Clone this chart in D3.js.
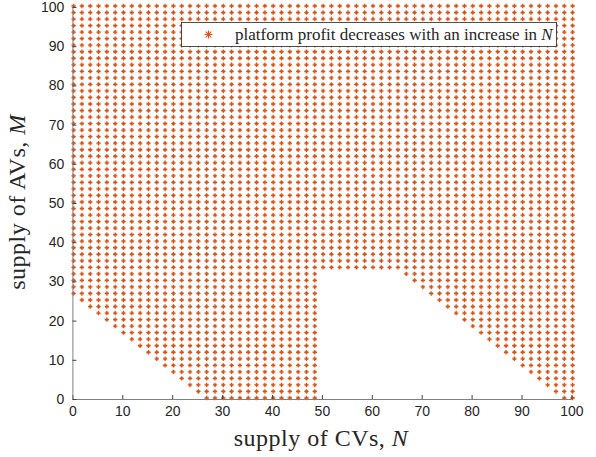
<!DOCTYPE html>
<html>
<head>
<meta charset="utf-8">
<script src="https://cdn.jsdelivr.net/npm/d3@7"></script>
<style>
  body { margin: 0; background: #fff; }
  svg { display: block; }
</style>
</head>
<body>
<svg width="596" height="457"></svg>
<script>
let width = 596, height = 457;

// sampling grid used for both N and M (61 points between 0 and 100)
let gridN = d3.range(61).map(k => k * 100 / 60);
let gridM = d3.range(61).map(k => k * 100 / 60);

// for every column of N, index of the lowest M row that is marked
let lowestRow = [16, 15, 14, 13, 12, 11, 10, 9, 8, 7, 6, 5, 4, 3, 2, 1, 0,
                 0, 0, 0, 0, 0, 0, 0, 0, 0, 0, 0, 0, 0,
                 20, 20, 20, 20, 20, 20, 20, 20, 20, 20,
                 19, 18, 17, 16, 15, 14, 13, 12, 11, 10, 9, 8, 7, 6, 5, 4, 3, 2, 1, 0,
                 0];

let xTicks = [0, 10, 20, 30, 40, 50, 60, 70, 80, 90, 100];
let yTicks = [0, 10, 20, 30, 40, 50, 60, 70, 80, 90, 100];

let legendLabel = "platform profit decreases with an increase in ";

let points = [];
gridN.forEach((n, i) => {
  gridM.forEach((m, j) => {
    if (j >= lowestRow[i]) points.push({n: n, m: m});
  });
});

let svg = d3.select("svg");

let x = d3.scaleLinear().domain([0, 100]).range([72.4, 571.4]);
let y = d3.scaleLinear().domain([0, 100]).range([399, 7]);

// asterisk marker pieces
function plusArms(r) {
  return "M" + (-r) + ",0L" + r + ",0M0," + (-r) + "L0," + r;
}
function crossArms(r) {
  let d = r * Math.SQRT1_2;
  return "M" + (-d) + "," + (-d) + "L" + d + "," + d +
         "M" + (-d) + "," + d + "L" + d + "," + (-d);
}

let orange = "#D95319";

let marks = svg.append("g")
    .attr("id", "marks")
    .attr("transform", "translate(1.2,-1)")
    .selectAll("g")
    .data(points)
    .enter()
    .append("g")
    .attr("transform", d => "translate(" + x(d.n) + "," + y(d.m) + ")");

marks.append("path")
    .attr("d", plusArms(2.2))
    .attr("stroke", orange)
    .attr("stroke-width", 1.3)
    .attr("fill", "none");
marks.append("path")
    .attr("d", crossArms(1.8))
    .attr("stroke", orange)
    .attr("stroke-width", 0.9)
    .attr("fill", "none");

// axes
let xAxis = svg.append("g")
    .attr("transform", "translate(0,399)")
    .call(d3.axisBottom(x).tickValues(xTicks).tickSizeInner(-4).tickSizeOuter(0).tickPadding(7));

let yAxis = svg.append("g")
    .attr("transform", "translate(72.4,0)")
    .call(d3.axisLeft(y).tickValues(yTicks).tickSizeInner(-4).tickSizeOuter(0).tickPadding(8));

[xAxis, yAxis].forEach(a => {
  a.select(".domain").attr("stroke", "#808080").attr("stroke-width", 1);
  a.selectAll(".tick line").attr("stroke", "#404040").attr("stroke-width", 1);
  a.selectAll(".tick text")
    .attr("fill", "#262626")
    .style("font-family", "'Liberation Sans', Arial, Helvetica, sans-serif")
    .style("font-size", "14px");
});

// axis labels
let xLabel = svg.append("text")
    .attr("x", 321)
    .attr("y", 446)
    .attr("text-anchor", "middle")
    .style("font-family", "'Liberation Serif', 'Times New Roman', serif")
    .style("font-size", "24px")
    .style("letter-spacing", "0.5px")
    .attr("fill", "#262626");
xLabel.append("tspan").text("supply of CVs, ");
xLabel.append("tspan").style("font-style", "italic").text("N");

let yLabel = svg.append("text")
    .attr("transform", "translate(25,202) rotate(-90)")
    .attr("text-anchor", "middle")
    .style("font-family", "'Liberation Serif', 'Times New Roman', serif")
    .style("font-size", "24px")
    .style("letter-spacing", "0.5px")
    .attr("fill", "#262626");
yLabel.append("tspan").text("supply of AVs, ");
yLabel.append("tspan").style("font-style", "italic").text("M");

// legend
let legend = svg.append("g").attr("id", "legend");
legend.append("rect")
    .attr("x", 181.5)
    .attr("y", 22.5)
    .attr("width", 375)
    .attr("height", 24)
    .attr("fill", "#fff")
    .attr("stroke", "#262626")
    .attr("stroke-width", 0.8);
legend.append("path")
    .attr("transform", "translate(208.5,34.5)")
    .attr("d", plusArms(4) + crossArms(4))
    .attr("stroke", orange)
    .attr("stroke-width", 1.1)
    .attr("fill", "none");
let legendText = legend.append("text")
    .attr("x", 235)
    .attr("y", 40)
    .style("font-family", "'Liberation Serif', 'Times New Roman', serif")
    .style("font-size", "17px")
    .attr("fill", "#262626");
legendText.append("tspan").text(legendLabel);
legendText.append("tspan").style("font-style", "italic").text("N");
</script>
</body>
</html>
